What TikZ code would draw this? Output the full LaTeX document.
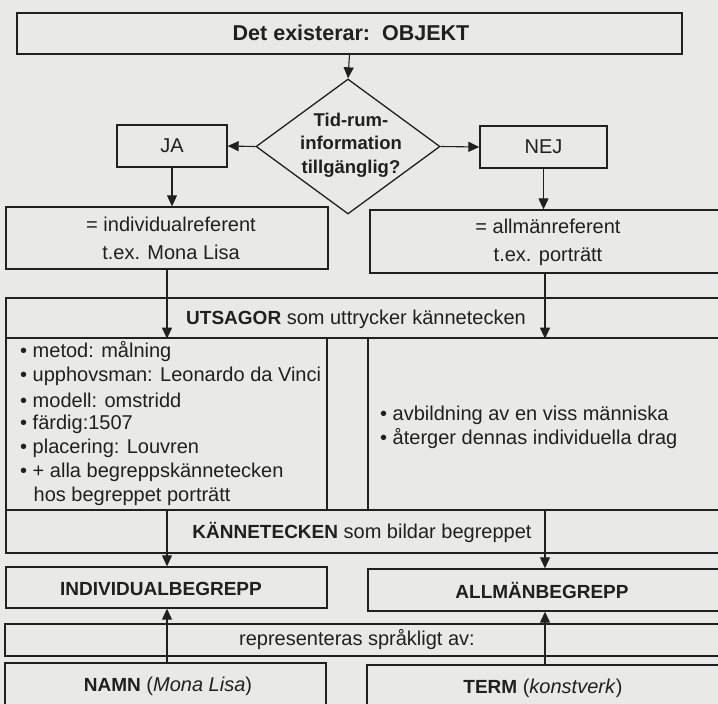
\documentclass[tikz,border=0pt]{standalone}
\usepackage{fontspec}
\setmainfont{Liberation Sans}
\usetikzlibrary{arrows.meta,shapes.geometric}
\definecolor{paper}{RGB}{233,233,231}
\definecolor{ink}{RGB}{32,32,32}

\begin{document}
\begin{tikzpicture}[x=1pt,y=-1pt,
  box/.style={draw=ink,line width=1.35pt,inner sep=0pt,rectangle},
  lbl/.style={text=ink,inner sep=0pt,font=\fontsize{20}{24}\selectfont},
  blbl/.style={lbl,font=\fontsize{19}{24}\selectfont\bfseries},
  item/.style={lbl,anchor=west},
  flow/.style={draw=ink,line width=1.1pt,-{Triangle[length=11pt,width=10pt]}},
]
% page and paper
\clip (0,0) rectangle (718,704);
\fill[paper] (0,0) rectangle (718,704);

% columns used by the vertical connectors
\coordinate (La) at (167,0);
\coordinate (Ra) at (545,0);

% top: the object
\node[box,minimum width=665pt,minimum height=41pt] (obj) at (349.5,33.5) {};
\node[lbl,font=\fontsize{21.5}{26}\selectfont\bfseries] (objtxt) at (351,33) {Det existerar:\ \ OBJEKT};

% decision
\node[diamond,draw=ink,line width=1.3pt,inner sep=0pt,minimum width=184pt,minimum height=135pt] (q) at (348,146.5) {};
\node[lbl,font=\fontsize{18.5}{23.5}\selectfont\bfseries,align=center] (qtxt) at (351,145) {Tid-rum-\\information\\tillgänglig?};

\node[box,minimum width=110pt,minimum height=42pt] (ja) at (172,146) {};
\node[lbl] (jatxt) at (172,146) {JA};
\node[box,minimum width=127pt,minimum height=42pt] (nej) at (543.5,147) {};
\node[lbl] (nejtxt) at (543.5,147) {NEJ};

% referents
\node[box,minimum width=322pt,minimum height=62pt] (indref) at (167,238) {};
\node[lbl,align=center,font=\fontsize{20}{28}\selectfont] (indreftxt) at (171,238) {= individualreferent\\t.ex. Mona Lisa};
\node[box,minimum width=355pt,minimum height=63pt] (allref) at (547.5,241.5) {};
\node[lbl,align=center,font=\fontsize{20}{28}\selectfont] (allreftxt) at (548,242) {= allmänreferent\\t.ex. porträtt};

% statements
\node[box,minimum width=719pt,minimum height=40pt] (hdr) at (365.5,318) {};
\node[lbl] (hdrtxt) at (356,319) {{\fontsize{19}{24}\selectfont\bfseries UTSAGOR} som uttrycker kännetecken};
\node[box,minimum width=321pt,minimum height=172pt] (lcol) at (166.5,424) {};
\node[box,minimum width=357pt,minimum height=172pt] (rcol) at (546.5,424) {};

\node[item] (l1) at (20,352) {•\ metod: målning};
\node[item] (l2) at (20,376) {•\ upphovsman: Leonardo da Vinci};
\node[item] (l3) at (20,400) {•\ modell: omstridd};
\node[item] (l4) at (20,424) {•\ färdig:1507};
\node[item] (l5) at (20,448) {•\ placering: Louvren};
\node[item] (l6) at (20,472) {•\ + alla begreppskännetecken};
\node[item] (l7) at (33.5,496) {hos begreppet porträtt};

\node[item] (r1) at (380,415) {•\ avbildning av en viss människa};
\node[item] (r2) at (380,439) {•\ återger dennas individuella drag};

% characteristics
\node[box,minimum width=719pt,minimum height=43pt] (kann) at (365.5,531.5) {};
\node[lbl] (kanntxt) at (362,532) {{\fontsize{19}{24}\selectfont\bfseries KÄNNETECKEN} som bildar begreppet};

% concepts
\node[box,minimum width=321pt,minimum height=41pt] (indbeg) at (166.5,587.5) {};
\node[blbl] (indbegtxt) at (161,589) {INDIVIDUALBEGREPP};
\node[box,minimum width=357pt,minimum height=42pt] (allbeg) at (546.5,590) {};
\node[blbl] (allbegtxt) at (542,590) {ALLMÄNBEGREPP};

% linguistic representation
\node[box,minimum width=720pt,minimum height=32pt] (rep) at (365,640) {};
\node[lbl] (reptxt) at (357,640) {representeras språkligt av:};

\node[box,minimum width=321pt,minimum height=44pt] (namn) at (165.5,685) {};
\node[lbl] (namntxt) at (168,686) {{\fontsize{19}{24}\selectfont\bfseries NAMN} (\textit{Mona Lisa})};
\node[box,minimum width=358pt,minimum height=44pt] (term) at (546,687) {};
\node[lbl] (termtxt) at (543,688) {{\fontsize{19}{24}\selectfont\bfseries TERM} (\textit{konstverk})};

% connectors
\draw[flow] (obj.south) -- (q.north);
\draw[flow] (q.west) -- (ja.east);
\draw[flow] (q.east) -- (nej.west);
\draw[flow] (ja.south) -- (ja.south |- indref.north);
\draw[flow] (nej.south) -- (nej.south |- allref.north);
\draw[flow] (La |- indref.south) -- (La |- hdr.south);
\draw[flow] (Ra |- allref.south) -- (Ra |- hdr.south);
\draw[flow] (La |- kann.north) -- (La |- indbeg.north);
\draw[flow] (Ra |- kann.north) -- (Ra |- allbeg.north);
\draw[flow] (La |- namn.north) -- (La |- indbeg.south);
\draw[flow] (Ra |- term.north) -- (Ra |- allbeg.south);
\end{tikzpicture}
\end{document}
